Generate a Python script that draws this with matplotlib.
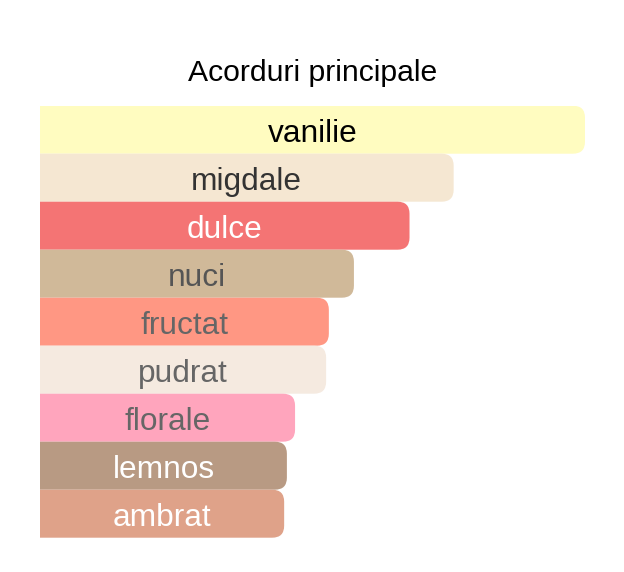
import matplotlib
matplotlib.use("Agg")
import matplotlib.pyplot as plt
from matplotlib.patches import FancyBboxPatch

plt.rcParams['font.family'] = ['Liberation Sans', 'DejaVu Sans']

# data (vanilie = 100)
accords = ["vanilie", "migdale", "dulce", "nuci", "fructat",
           "pudrat", "florale", "lemnos", "ambrat"]
strength = [100, 75.9, 67.8, 57.6, 53.0, 52.5, 46.8, 45.3, 44.8]
bar_colors = ["#FFFCC0", "#F5E7D2", "#F47474", "#D0B999", "#FF9783",
              "#F5EAE0", "#FFA5BD", "#B89A83", "#DFA289"]
text_colors = ["#000000", "#333333", "#FFFFFF", "#555555", "#666666",
               "#666666", "#666666", "#FFFFFF", "#FFFFFF"]

W, H = 624, 572
fig = plt.figure(figsize=(W / 100, H / 100), dpi=100)
ax_left, ax_right = 40, 585
ax_top, ax_bottom = 105.7, 537.7
ax = fig.add_axes([ax_left / W, 1 - ax_bottom / H,
                   (ax_right - ax_left) / W, (ax_bottom - ax_top) / H])
ax.set_xlim(0, 100)
n = len(accords)
ax.set_ylim(n, 0)
ax.axis("off")

px_x = (ax_right - ax_left) / 100.0      # px per x unit
px_y = (ax_bottom - ax_top) / n          # px per bar
radius_px = 12
aspect = px_x / px_y

for i, (name, val) in enumerate(zip(accords, strength)):
    box = FancyBboxPatch((-5, i), val + 5, 1,
                         boxstyle=f"round,pad=0,rounding_size={radius_px / px_x}",
                         mutation_aspect=aspect,
                         facecolor=bar_colors[i], edgecolor="none")
    ax.add_patch(box)
    ax.text(val / 2, i + 0.58, name, ha="center", va="center",
            fontsize=22.8, color=text_colors[i])

fig.text((ax_left + ax_right) / 2 / W, 1 - 73 / H, "Acorduri principale",
         ha="center", va="center", fontsize=21.7, color="#000000")

fig.savefig("out.png", dpi=100)
